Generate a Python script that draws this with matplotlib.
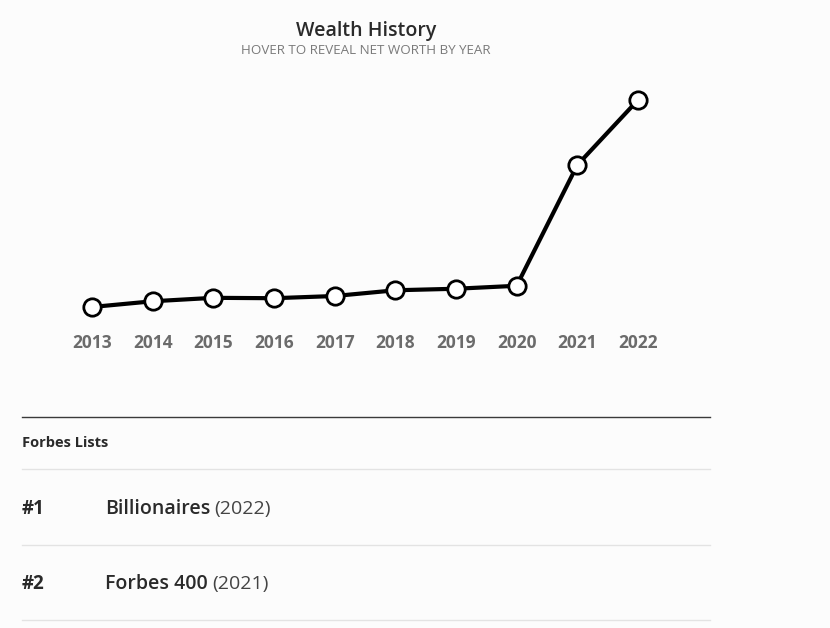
import matplotlib
matplotlib.use("Agg")
import matplotlib.pyplot as plt
from matplotlib.lines import Line2D

years = ["2013", "2014", "2015", "2016", "2017", "2018", "2019", "2020", "2021", "2022"]
net_worth = [2.4, 8.4, 12.0, 11.6, 13.9, 19.9, 21.5, 24.6, 151.0, 219.0]

list_ranks = ["#1", "#2"]
list_names = ["Billionaires", "Forbes 400"]
list_years = ["(2022)", "(2021)"]

W, H = 830, 628
BG = "#fcfcfc"
fig = plt.figure(figsize=(W / 100, H / 100), dpi=100, facecolor=BG)

def fx(px):
    return px / W

def fy(py):
    return 1 - py / H

# line chart axes
ax = fig.add_axes([fx(92), fy(307), fx(638) - fx(92), fy(100) - fy(307)])
ax.set_facecolor("none")
xs = list(range(len(years)))
ax.plot(xs, net_worth, color="black", lw=3.0, marker="o", markersize=12.5,
        markerfacecolor="white", markeredgecolor="black", markeredgewidth=2.0,
        clip_on=False, zorder=3)
ax.set_xlim(0, len(years) - 1)
ax.set_ylim(min(net_worth), max(net_worth))
for s in ax.spines.values():
    s.set_visible(False)
ax.set_yticks([])
ax.set_xticks(xs)
ax.set_xticklabels(years, fontfamily="Open Sans", fontweight="bold",
                   fontsize=12.5, color="#6b6b6b")
ax.tick_params(axis="x", length=0, pad=19.5)

# titles
fig.text(fx(366), fy(31), "Wealth History", ha="center", va="center",
         fontfamily="Open Sans", fontweight="semibold", fontsize=14, color="#2a2a2a")
fig.text(fx(366), fy(51), "HOVER TO REVEAL NET WORTH BY YEAR", ha="center", va="center",
         fontfamily="Open Sans", fontsize=9.6, color="#7a7a7a")

# table
fig.add_artist(Line2D([fx(22), fx(710)], [fy(417), fy(417)], color="#3a3a3a", lw=1.0))
fig.text(fx(22), fy(443), "Forbes Lists", ha="left", va="center",
         fontfamily="Open Sans", fontweight="bold", fontsize=10.5, color="#2a2a2a")
for yy in [469, 545, 620]:
    fig.add_artist(Line2D([fx(22), fx(710)], [fy(yy), fy(yy)], color="#e3e3e3", lw=1.0))

row_y = [509, 584]
for rank, name, yr, ry in zip(list_ranks, list_names, list_years, row_y):
    fig.text(fx(22), fy(ry), rank, ha="left", va="center", fontfamily="Open Sans",
             fontweight="bold", fontsize=13.5, color="#2a2a2a")
    t = fig.text(fx(105), fy(ry), name, ha="left", va="center", fontfamily="Open Sans",
                 fontweight="semibold", fontsize=14, color="#2a2a2a")
    fig.canvas.draw()
    bb = t.get_window_extent()
    fig.text((bb.x1 + 4) / W, fy(ry), yr, ha="left", va="center", fontfamily="Open Sans",
             fontsize=14, color="#444444")

fig.savefig("out.png", dpi=100, facecolor=BG)
